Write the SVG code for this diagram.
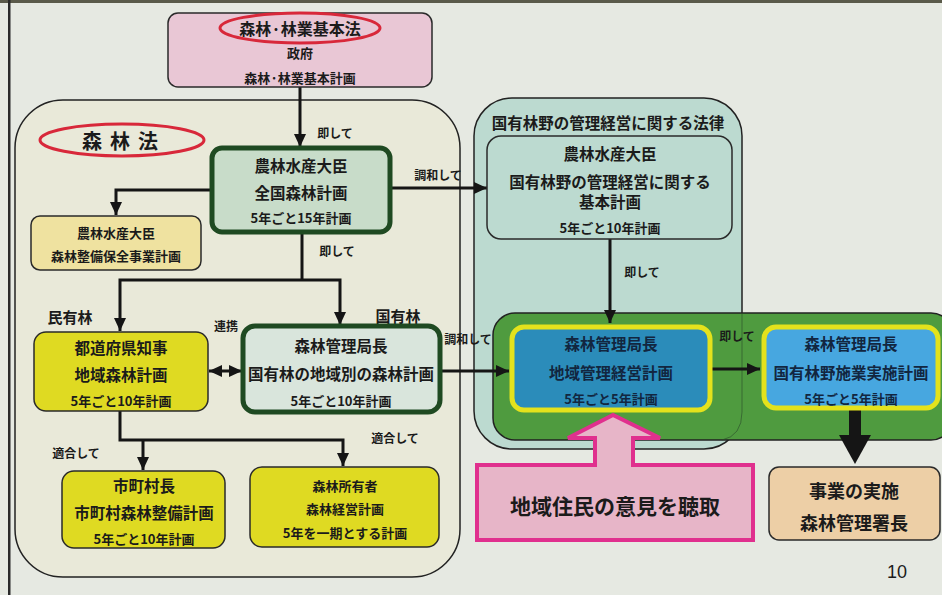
<svg xmlns="http://www.w3.org/2000/svg" width="942" height="595" viewBox="0 0 942 595">
<defs>
<style>
text{font-family:"Noto Sans CJK JP","Noto Sans CJK SC",sans-serif;font-weight:bold;fill:#1b1b1b;text-anchor:middle;dominant-baseline:central}
.t16{font-size:15.5px}
.t13{font-size:13px}
.t12{font-size:12px}
.lbl{font-size:12px}
.box{stroke:#2a2a2a;stroke-width:1.5}
.gbox{stroke:#1f4a22;stroke-width:5}
.ybox{stroke:#e4e21c;stroke-width:5}
.conn{fill:none;stroke:#151515;stroke-width:3}
</style>
<marker id="ah" markerUnits="userSpaceOnUse" markerWidth="13" markerHeight="12" refX="13" refY="6" orient="auto-start-reverse">
<path d="M0,0 L13,6 L0,12 z" fill="#151515"/>
</marker>
</defs>
<rect width="942" height="595" fill="#e6e9e2"/>
<rect x="0" y="0" width="942" height="3" fill="#5a5a4a"/>
<rect x="8" y="0" width="2.5" height="595" fill="#2a2a2a"/>

<g id="shinrinho-container">
<rect x="15" y="100" width="445" height="477" rx="48" fill="#e9e9d9" stroke="#222" stroke-width="1.5"/>
<ellipse cx="122" cy="140" rx="82" ry="16" fill="none" stroke="#d8283a" stroke-width="3"/>
<text x="124" y="140" style="font-size:20px;letter-spacing:8px">森林法</text>
</g>

<g id="kokuyu-law-container">
<rect x="474" y="98" width="268" height="351" rx="38" fill="#bcdad0" stroke="#222" stroke-width="1.5"/>
<text class="t16" x="608" y="122">国有林野の管理経営に関する法律</text>
</g>

<g id="green-container">
<rect x="493" y="313" width="460" height="127" rx="22" fill="#4f9b3f" stroke="#222" stroke-width="1.5"/>
<path d="M742,313 V412 Q742,436 722,440" fill="none" stroke="#2a4a2a" stroke-width="1" opacity="0.6"/>
</g>

<g id="connectors">
<line class="conn" x1="300" y1="87" x2="300" y2="147" marker-end="url(#ah)"/>
<polyline class="conn" points="212,190 116,190 116,215" marker-end="url(#ah)"/>
<line class="conn" x1="390" y1="188" x2="487" y2="188" marker-end="url(#ah)"/>
<line class="conn" x1="302" y1="232" x2="302" y2="280"/>
<polyline class="conn" points="120,331 120,280 340,280 340,325" marker-start="url(#ah)" marker-end="url(#ah)"/>
<line class="conn" x1="209" y1="371" x2="242" y2="371" marker-start="url(#ah)" marker-end="url(#ah)"/>
<line class="conn" x1="440" y1="371" x2="509" y2="371" marker-end="url(#ah)"/>
<polyline class="conn" points="120,411 120,440 343,440 343,466" marker-end="url(#ah)"/>
<line class="conn" x1="143" y1="440" x2="143" y2="470" marker-end="url(#ah)"/>
<line class="conn" x1="610" y1="239" x2="610" y2="323" marker-end="url(#ah)"/>
<line class="conn" x1="712" y1="369" x2="760" y2="369" marker-end="url(#ah)"/>
<rect x="849" y="410" width="12" height="27" fill="#151515"/>
<polygon points="839,435 871,435 855,464" fill="#151515"/>
<text class="lbl" x="335" y="132">即して</text>
<text class="lbl" x="438" y="174">調和して</text>
<text class="lbl" x="337" y="250">即して</text>
<text class="lbl" x="226" y="325">連携</text>
<text class="lbl" x="468" y="338">調和して</text>
<text class="lbl" x="642" y="271">即して</text>
<text class="lbl" x="737" y="335">即して</text>
<text class="lbl" x="76" y="452">適合して</text>
<text class="lbl" x="395" y="437">適合して</text>
<text x="70" y="316" style="font-size:15px">民有林</text>
<text x="398" y="315" style="font-size:15px">国有林</text>
</g>

<g id="kihonho">
<rect class="box" x="168" y="13" width="264" height="74" rx="10" fill="#e9c7d5"/>
<ellipse cx="300" cy="28" rx="80" ry="15" fill="none" stroke="#d8283a" stroke-width="3"/>
<text x="300" y="28" style="font-size:16px">森林·林業基本法</text>
<text class="t13" x="300" y="52">政府</text>
<text class="t13" x="300" y="77">森林·林業基本計画</text>
</g>

<g id="zenkoku">
<rect class="gbox" x="212" y="148" width="178" height="84" rx="10" fill="#c8dcc9"/>
<text class="t16" x="301" y="165">農林水産大臣</text>
<text class="t16" x="301" y="192">全国森林計画</text>
<text class="t13" x="301" y="217">5年ごと15年計画</text>
</g>

<g id="seibi-hozen">
<rect class="box" x="31" y="216" width="170" height="54" rx="9" fill="#efe2a0"/>
<text class="t13" x="116" y="232">農林水産大臣</text>
<text class="t13" x="116" y="255">森林整備保全事業計画</text>
</g>

<g id="todofuken">
<rect class="box" x="34" y="332" width="174" height="79" rx="12" fill="#dfda22"/>
<text class="t16" x="121" y="347">都道府県知事</text>
<text class="t16" x="121" y="374">地域森林計画</text>
<text class="t13" x="121" y="400">5年ごと10年計画</text>
</g>

<g id="kanrikyoku-chiikibetsu">
<rect class="gbox" x="243" y="326" width="197" height="86" rx="12" fill="#d9e5dc"/>
<text class="t16" x="341" y="345">森林管理局長</text>
<text class="t16" x="341" y="373">国有林の地域別の森林計画</text>
<text class="t13" x="341" y="400">5年ごと10年計画</text>
</g>

<g id="shichoson">
<rect class="box" x="62" y="471" width="163" height="77" rx="12" fill="#dfda22"/>
<text class="t16" x="144" y="485">市町村長</text>
<text class="t16" x="144" y="512">市町村森林整備計画</text>
<text class="t13" x="144" y="538">5年ごと10年計画</text>
</g>

<g id="shoyusha">
<rect class="box" x="250" y="467" width="189" height="80" rx="12" fill="#dfda22"/>
<text class="t13" x="345" y="485">森林所有者</text>
<text class="t13" x="345" y="508">森林経営計画</text>
<text class="t13" x="345" y="532">5年を一期とする計画</text>
</g>

<g id="kokuyu-kihon">
<rect class="box" x="487" y="136" width="245" height="103" rx="14" fill="#bcdad0"/>
<text class="t16" x="610" y="153">農林水産大臣</text>
<text class="t16" x="610" y="181">国有林野の管理経営に関する</text>
<text class="t16" x="610" y="201">基本計画</text>
<text class="t13" x="610" y="227">5年ごと10年計画</text>
</g>

<g id="chiiki-kanri">
<rect class="ybox" x="512" y="327" width="198" height="83" rx="12" fill="#2b8cba"/>
<text class="t16" x="611" y="343" style="fill:#122640">森林管理局長</text>
<text class="t16" x="611" y="372" style="fill:#122640">地域管理経営計画</text>
<text class="t13" x="611" y="398" style="fill:#122640">5年ごと5年計画</text>
</g>

<g id="sekyo-jisshi">
<rect class="ybox" x="764" y="327" width="174" height="81" rx="12" fill="#47a7e0"/>
<text class="t16" x="851" y="343" style="fill:#122640">森林管理局長</text>
<text class="t16" x="851" y="372" style="fill:#122640">国有林野施業実施計画</text>
<text class="t13" x="851" y="398" style="fill:#122640">5年ごと5年計画</text>
</g>

<g id="jigyo">
<rect class="box" x="769" y="467" width="171" height="73" rx="10" fill="#edcfa6"/>
<text x="854" y="490" style="font-size:18px">事業の実施</text>
<text x="854" y="522" style="font-size:18px">森林管理署長</text>
</g>

<g id="jumin">
<polygon points="477,465 595,465 595,438 568,438 613,415 660,438 633,438 633,465 753,465 753,540 477,540" fill="#e7b5c8" stroke="#e0308e" stroke-width="4" stroke-linejoin="miter"/>
<text x="615" y="505" style="font-size:21px">地域住民の意見を聴取</text>
</g>

<text x="897" y="578" style="font-family:'Liberation Sans',sans-serif;font-weight:normal;font-size:18px;dominant-baseline:auto">10</text>
</svg>
